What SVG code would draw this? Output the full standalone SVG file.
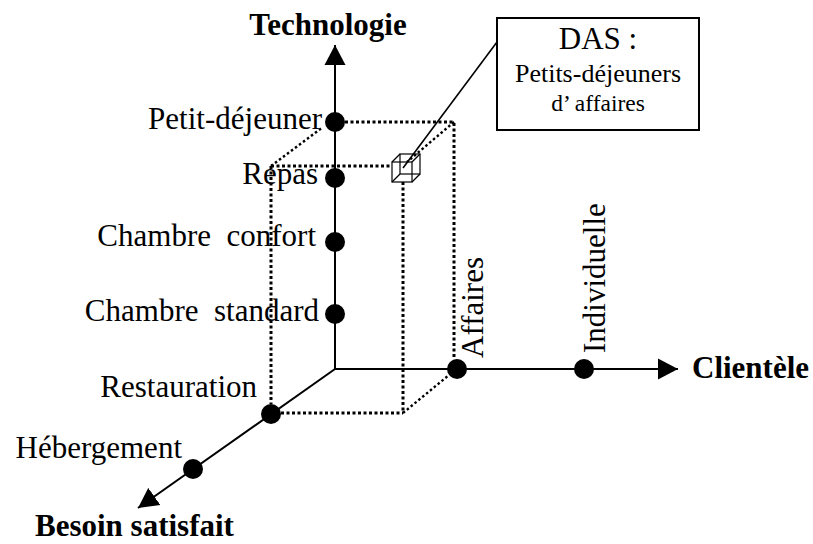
<svg xmlns="http://www.w3.org/2000/svg" width="813" height="544" viewBox="0 0 813 544">
<style>
text{font-family:"Liberation Serif","Times New Roman",serif;fill:#000}
.lbl{font-size:31px}
.end{text-anchor:end}
.ttl{font-size:31px;font-weight:bold}
.axis{stroke:#000;stroke-width:2;fill:none}
.dot{stroke:#000;stroke-width:3;stroke-dasharray:3 2.5;fill:none}
.dotd{stroke:#000;stroke-width:2.4;stroke-dasharray:2.5 2.5;fill:none}
.cube{stroke:#000;stroke-width:1.2;fill:none}
</style>
<defs>
<marker id="arr" markerUnits="userSpaceOnUse" markerWidth="21" markerHeight="22" refX="20" refY="11" orient="auto">
<path d="M0,0.5 L20,11 L0,21.5 z" fill="#000"/>
</marker>
</defs>
<rect width="813" height="544" fill="#fff"/>
<g id="connectors">
<line class="axis" x1="335" y1="369" x2="335" y2="45" marker-end="url(#arr)"/>
<line class="axis" x1="335" y1="369" x2="678" y2="369" marker-end="url(#arr)"/>
<line class="axis" x1="335" y1="369" x2="138" y2="508" marker-end="url(#arr)"/>
<polyline class="dot" points="345,122 454,122 454,358"/>
<line class="dotd" x1="454" y1="122" x2="407" y2="162"/>
<line class="dotd" x1="271" y1="166" x2="323" y2="127"/>
<line class="dot" x1="271" y1="166" x2="392" y2="166"/>
<line class="dot" x1="271" y1="166" x2="271" y2="404"/>
<line class="dot" x1="403" y1="182" x2="403" y2="413"/>
<line class="dot" x1="281" y1="413" x2="403" y2="413"/>
<line class="dotd" x1="403" y1="413" x2="449" y2="375"/>
<line stroke="#000" stroke-width="1.6" x1="497" y1="42" x2="403" y2="168"/>
</g>
<g id="cube">
<rect class="cube" x="392" y="162" width="20" height="20"/>
<rect class="cube" x="400" y="154" width="20" height="20"/>
<line class="cube" x1="392" y1="162" x2="400" y2="154"/>
<line class="cube" x1="412" y1="162" x2="420" y2="154"/>
<line class="cube" x1="412" y1="182" x2="420" y2="174"/>
<line class="cube" x1="392" y1="182" x2="400" y2="174"/>
</g>
<g id="das">
<rect x="497" y="18" width="202" height="112" fill="#fff" stroke="#000" stroke-width="2"/>
<text x="598" y="49" font-size="31" text-anchor="middle">DAS :</text>
<text x="598" y="82" font-size="26" text-anchor="middle">Petits-déjeuners</text>
<text x="598" y="111" font-size="23.5" text-anchor="middle">d’ affaires</text>
</g>
<g id="axis-technologie"><text class="ttl" x="328" y="35" text-anchor="middle">Technologie</text></g>
<g id="axis-clientele"><text class="ttl" x="692" y="378">Clientèle</text></g>
<g id="axis-besoin"><text class="ttl" x="35" y="536">Besoin satisfait</text></g>
<g id="n-petitdej"><circle cx="335" cy="122" r="10"/><text class="lbl end" x="322" y="129">Petit-déjeuner</text></g>
<g id="n-repas"><circle cx="335" cy="178" r="10"/><text class="lbl end" x="318" y="184">Repas</text></g>
<g id="n-confort"><circle cx="335" cy="242" r="10"/><text class="lbl end" x="316" y="246" xml:space="preserve">Chambre  confort</text></g>
<g id="n-standard"><circle cx="335" cy="314" r="10"/><text class="lbl end" x="319" y="321" xml:space="preserve">Chambre  standard</text></g>
<g id="n-affaires"><circle cx="457" cy="369" r="10"/><text class="lbl" transform="translate(483,358) rotate(-90)">Affaires</text></g>
<g id="n-individuelle"><circle cx="584" cy="369" r="10"/><text class="lbl" transform="translate(605,353) rotate(-90)">Individuelle</text></g>
<g id="n-restauration"><circle cx="271" cy="414" r="10"/><text class="lbl end" x="257" y="397">Restauration</text></g>
<g id="n-hebergement"><circle cx="193" cy="469" r="10"/><text class="lbl end" x="182" y="458">Hébergement</text></g>
</svg>
